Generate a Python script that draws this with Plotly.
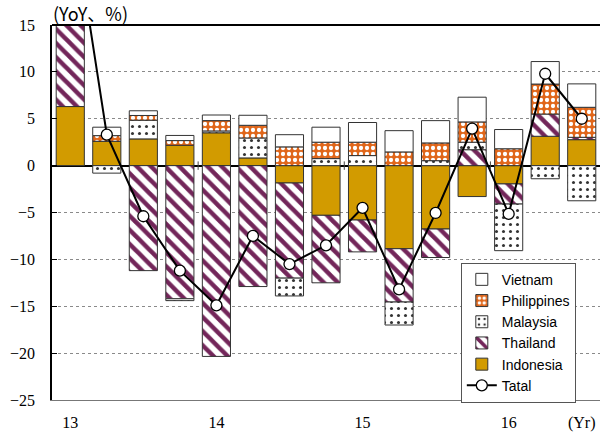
import plotly.graph_objects as go

quarters = ["13Q1", "13Q2", "13Q3", "13Q4", "14Q1", "14Q2", "14Q3", "14Q4",
            "15Q1", "15Q2", "15Q3", "15Q4", "16Q1", "16Q2", "16Q3"]
indonesia = [6.3, 2.6, 2.85, 2.17, 3.5, 0.82, -1.85, -5.3, -5.8, -8.86, -6.76, -3.3, -1.95, 3.13, 2.77]
thailand = [20.0, 0.0, -11.2, -14.2, -20.35, -12.9, -10.15, -7.2, -3.4, -5.69, -3.04, 1.7, -2.15, 2.37, 0.25]
malaysia = [1.0, -0.8, 2.0, -0.2, 0.2, 2.13, -1.9, 0.75, 1.07, -2.45, 0.53, 0.8, -4.97, -1.4, -3.75]
philippines = [0.7, 0.6, 0.5, 0.5, 1.1, 1.35, 2.0, 1.75, 1.43, 1.46, 1.89, 2.16, 1.8, 3.2, 3.2]
vietnam = [0.5, 0.9, 0.5, 0.55, 0.6, 1.07, 1.3, 1.6, 2.1, 2.27, 2.38, 2.64, 2.05, 2.4, 2.5]
total = [28.5, 3.3, -5.4, -11.2, -14.9, -7.5, -10.5, -8.5, -4.5, -13.2, -5.05, 3.95, -5.15, 9.8, 5.0]

tick_vals = ["13Q1", "14Q1", "15Q1", "16Q1", "16Q3"]
tick_text = ["13", "14", "15", "16", "(Yr)"]
year_breaks = [3.5, 7.5, 11.5]

serif = "Liberation Serif"
sans = "Liberation Sans"
outline = dict(color="#333333", width=1)
bw = 0.77

fig = go.Figure()
fig.add_trace(go.Bar(x=quarters, y=indonesia, name="Indonesia", width=bw, legendrank=5,
                     marker=dict(color="#D29B00", line=outline)))
fig.add_trace(go.Bar(x=quarters, y=thailand, name="Thailand", width=bw, legendrank=4,
                     marker=dict(color="white", line=outline,
                                 pattern=dict(shape="\\", fgcolor="#73265A", bgcolor="white",
                                              fgopacity=1, size=10, solidity=0.45))))
fig.add_trace(go.Bar(x=quarters, y=malaysia, name="Malaysia", width=bw, legendrank=3,
                     marker=dict(color="white", line=outline,
                                 pattern=dict(shape=".", fgcolor="#333333", bgcolor="white",
                                              fgopacity=1, size=7, solidity=0.15))))
fig.add_trace(go.Bar(x=quarters, y=philippines, name="Philippines", width=bw, legendrank=2,
                     marker=dict(color="#E0661A", line=outline,
                                 pattern=dict(shape=".", fgcolor="white", bgcolor="#E0661A",
                                              fgopacity=1, size=6, solidity=0.4))))
fig.add_trace(go.Bar(x=quarters, y=vietnam, name="Vietnam", width=bw, legendrank=1,
                     marker=dict(color="white", line=outline)))
fig.add_trace(go.Scatter(x=quarters, y=total, name="Tatal", mode="lines+markers", legendrank=6,
                         line=dict(color="black", width=2),
                         marker=dict(size=11, color="white", line=dict(color="black", width=1.3))))

for xb in year_breaks:
    fig.add_shape(type="line", x0=xb, x1=xb, y0=-0.45, y1=0.45, xref="x", yref="y",
                  line=dict(color="#444444", width=1))
fig.add_shape(type="line", x0=0, x1=1, y0=1, y1=1, xref="paper", yref="paper",
              line=dict(color="black", width=2))

fig.add_annotation(text="(YoY、%)", x=0, y=1, xref="paper", yref="paper",
                   xanchor="left", yanchor="bottom", xshift=-1, yshift=-3, showarrow=False,
                   font=dict(family="Noto Sans CJK JP", size=18, color="black"))

fig.update_layout(
    width=600, height=434,
    margin=dict(l=52, r=0, t=25, b=34),
    barmode="relative",
    plot_bgcolor="white", paper_bgcolor="white",
    showlegend=True,
    legend=dict(x=0.746, y=0.366, xanchor="left", yanchor="top",
                bgcolor="white", bordercolor="#555555", borderwidth=1,
                font=dict(family=sans, size=14, color="black"),
                tracegroupgap=0, itemwidth=30),
    xaxis=dict(type="category", range=[-0.5, 14.5], tickvals=tick_vals, ticktext=tick_text,
               showgrid=False, showline=True, linecolor="#777777", linewidth=1,
               ticks="", tickfont=dict(family=serif, size=16, color="black"), ticklabelstandoff=8),
    yaxis=dict(range=[-25, 15], dtick=5, showgrid=True, gridcolor="#8a8a8a", griddash="dot",
               gridwidth=1, zeroline=True, zerolinecolor="black", zerolinewidth=2,
               showline=True, linecolor="black", linewidth=1.5,
               ticks="inside", ticklen=5, tickcolor="black",
               tickfont=dict(family=serif, size=16, color="black"), ticklabelstandoff=12),
)

fig.write_html("out.html")
